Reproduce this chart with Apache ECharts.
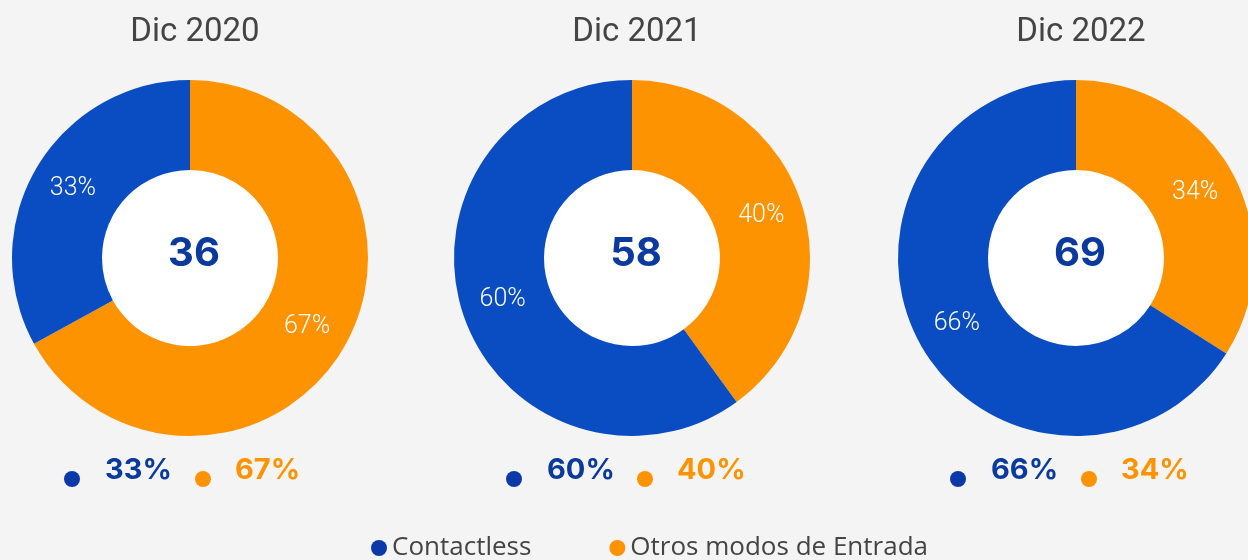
<!DOCTYPE html>
<html>
<head>
<meta charset="utf-8">
<script src="https://cdn.jsdelivr.net/npm/echarts@6/dist/echarts.min.js"></script>
<style>
html,body{margin:0;padding:0;background:#f4f4f4;}
#chart{width:1248px;height:560px;}
</style>
</head>
<body>
<div id="chart"></div>
<script>
var periods = ['Dic 2020', 'Dic 2021', 'Dic 2022'];
var totals = [36, 58, 69];
var contactless = [33, 60, 66];
var otros = [67, 40, 34];
var seriesNames = ['Contactless', 'Otros modos de Entrada'];

var BLUE = '#0a4dc2', ORANGE = '#fd9300', DARKBLUE = '#0a3a9e', GREY = '#444444';
var centersX = [190, 632, 1076];
var centerY = 258;

var chart = echarts.init(document.getElementById('chart'));
var series = [], graphic = [];
periods.forEach(function (p, i) {
  series.push({
    type: 'pie',
    center: [centersX[i], centerY],
    radius: [88, 178],
    startAngle: 90,
    clockwise: true,
    silent: true,
    animation: false,
    label: {
      show: true, position: 'inside', formatter: '{c}%',
      color: '#ffffff', fontSize: 25, fontFamily: 'Roboto', fontWeight: 300
    },
    labelLine: { show: false },
    itemStyle: { borderWidth: 0 },
    data: [
      { name: seriesNames[1], value: otros[i], itemStyle: { color: ORANGE } },
      { name: seriesNames[0], value: contactless[i], itemStyle: { color: BLUE } }
    ]
  });
  series.push({
    type: 'pie', center: [centersX[i], centerY], radius: [0, 88], silent: true, animation: false,
    label: { show: false }, itemStyle: { color: '#ffffff' }, data: [{ value: 1, name: '' }],
    legendHoverLink: false, z: 1
  });
  graphic.push({
    type: 'text', x: centersX[i] + 5, y: 33, z: 100,
    style: { text: p, fill: GREY, font: '33px Roboto', textAlign: 'center', textVerticalAlign: 'middle' }
  });
  graphic.push({
    type: 'text', x: centersX[i] + 4, y: 254, z: 100,
    style: { text: String(totals[i]), fill: DARKBLUE, font: 'bold 40px Inter, Roboto', textAlign: 'center', textVerticalAlign: 'middle' }
  });
  var bx = centersX[i] - 118;
  graphic.push({ type: 'circle', z: 100, shape: { cx: bx, cy: 479, r: 8 }, style: { fill: '#0b3aa8' } });
  graphic.push({
    type: 'text', x: bx + 33, y: 470, z: 100,
    style: { text: contactless[i] + '%', fill: DARKBLUE, font: 'bold 29px Inter, Roboto', textAlign: 'left', textVerticalAlign: 'middle' }
  });
  graphic.push({ type: 'circle', z: 100, shape: { cx: bx + 131, cy: 479, r: 8 }, style: { fill: ORANGE } });
  graphic.push({
    type: 'text', x: bx + 163, y: 470, z: 100,
    style: { text: otros[i] + '%', fill: ORANGE, font: 'bold 29px Inter, Roboto', textAlign: 'left', textVerticalAlign: 'middle' }
  });
});

chart.setOption({
  backgroundColor: '#f4f4f4',
  animation: false,
  legend: {
    data: [
      { name: seriesNames[0], itemStyle: { color: '#0b3aa8' } },
      { name: seriesNames[1], itemStyle: { color: ORANGE } }
    ],
    left: 366, top: 530, icon: 'circle', itemWidth: 16, itemHeight: 16, itemGap: 78,
    selectedMode: false,
    textStyle: { fontSize: 26, color: GREY, fontFamily: 'Open Sans' }
  },
  graphic: graphic,
  series: series
});
</script>
</body>
</html>
